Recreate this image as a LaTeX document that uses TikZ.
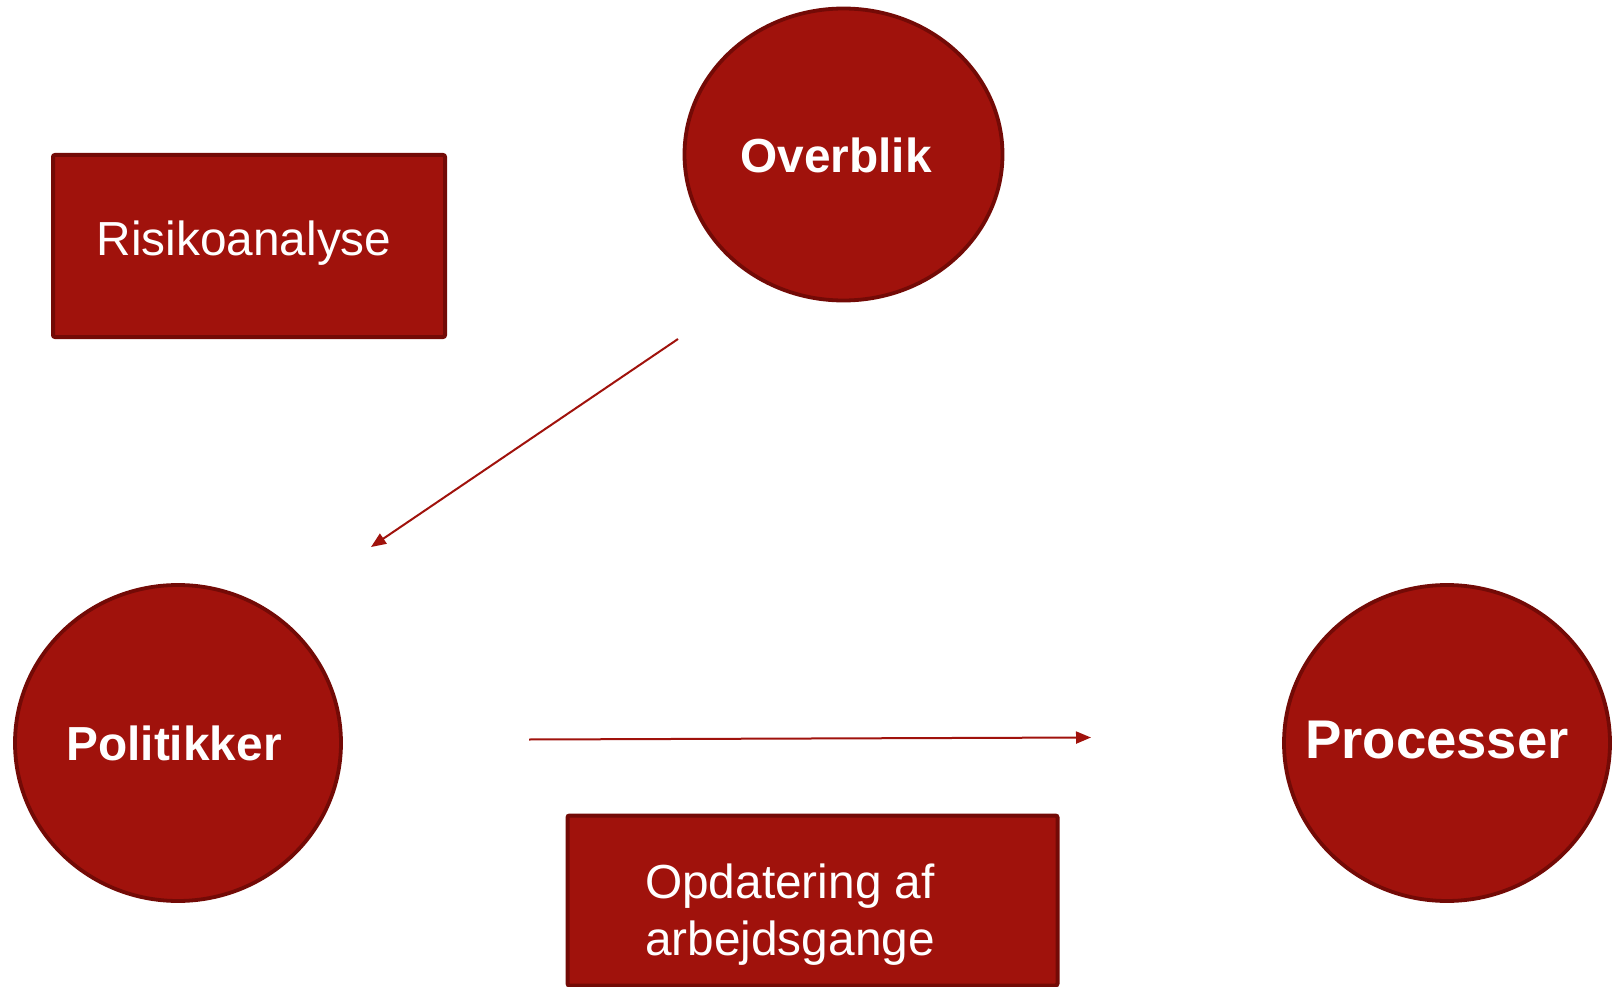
\documentclass[tikz,border=0pt]{standalone}
\usepackage{fontspec}
\setmainfont{Liberation Sans}
\usetikzlibrary{shapes.geometric,arrows.meta}
\definecolor{boxred}{RGB}{160,18,12}
\definecolor{edgered}{RGB}{115,10,6}
\tikzset{
  rectbox/.style={draw=edgered, fill=boxred, line width=4pt, rounded corners=2pt, inner sep=0pt},
  roundbox/.style={ellipse, draw=edgered, fill=boxred, line width=3.8pt, inner sep=0pt},
  boxtext/.style={text=white, font=\fontsize{47.8}{62}\selectfont, inner sep=0pt, anchor=base, align=center},
  circtext/.style={text=white, font=\fontsize{47.8}{56}\selectfont\bfseries, inner sep=0pt, anchor=base},
  flow/.style={draw=boxred, line width=2pt, -{Triangle[length=15pt,width=12pt]}}
}
\begin{document}
\begin{tikzpicture}[x=1pt,y=-1pt]
\useasboundingbox (0,0) rectangle (1615,987);
% shapes
\node[rectbox, minimum width=392pt, minimum height=182pt] (risk) at (249,246) {};
\node[rectbox, minimum width=490pt, minimum height=170pt] (opd) at (812.5,900.5) {};
\node[roundbox, minimum width=318pt, minimum height=292pt] (over) at (843.5,154.5) {};
\node[roundbox, minimum width=326pt, minimum height=316pt] (pol) at (178,743) {};
\node[roundbox, minimum width=326pt, minimum height=316pt] (proc) at (1447,743) {};
% texts
\node[boxtext] (risktxt) at (244,256) {Risikoanalyse};
\node[boxtext] (opdtxt1) at (790,898) {Opdatering af};
\node[boxtext] (opdtxt2) at (790,955) {arbejdsgange};
\node[circtext] (overtxt) at (836,173) {Overblik};
\node[circtext] (poltxt) at (174,760) {Politikker};
\node[circtext, font=\fontsize{54.5}{62}\selectfont\bfseries] (proctxt) at (1437,758) {Processer};
% connectors
\coordinate (a1s) at (678,339);
\coordinate (a1e) at (371,547);
\coordinate (a2s) at (529,739.5);
\coordinate (a2e) at (1091,737.5);
\draw[flow] (a1s) -- (a1e);
\draw[flow] (a2s) -- (a2e);
\end{tikzpicture}
\end{document}
